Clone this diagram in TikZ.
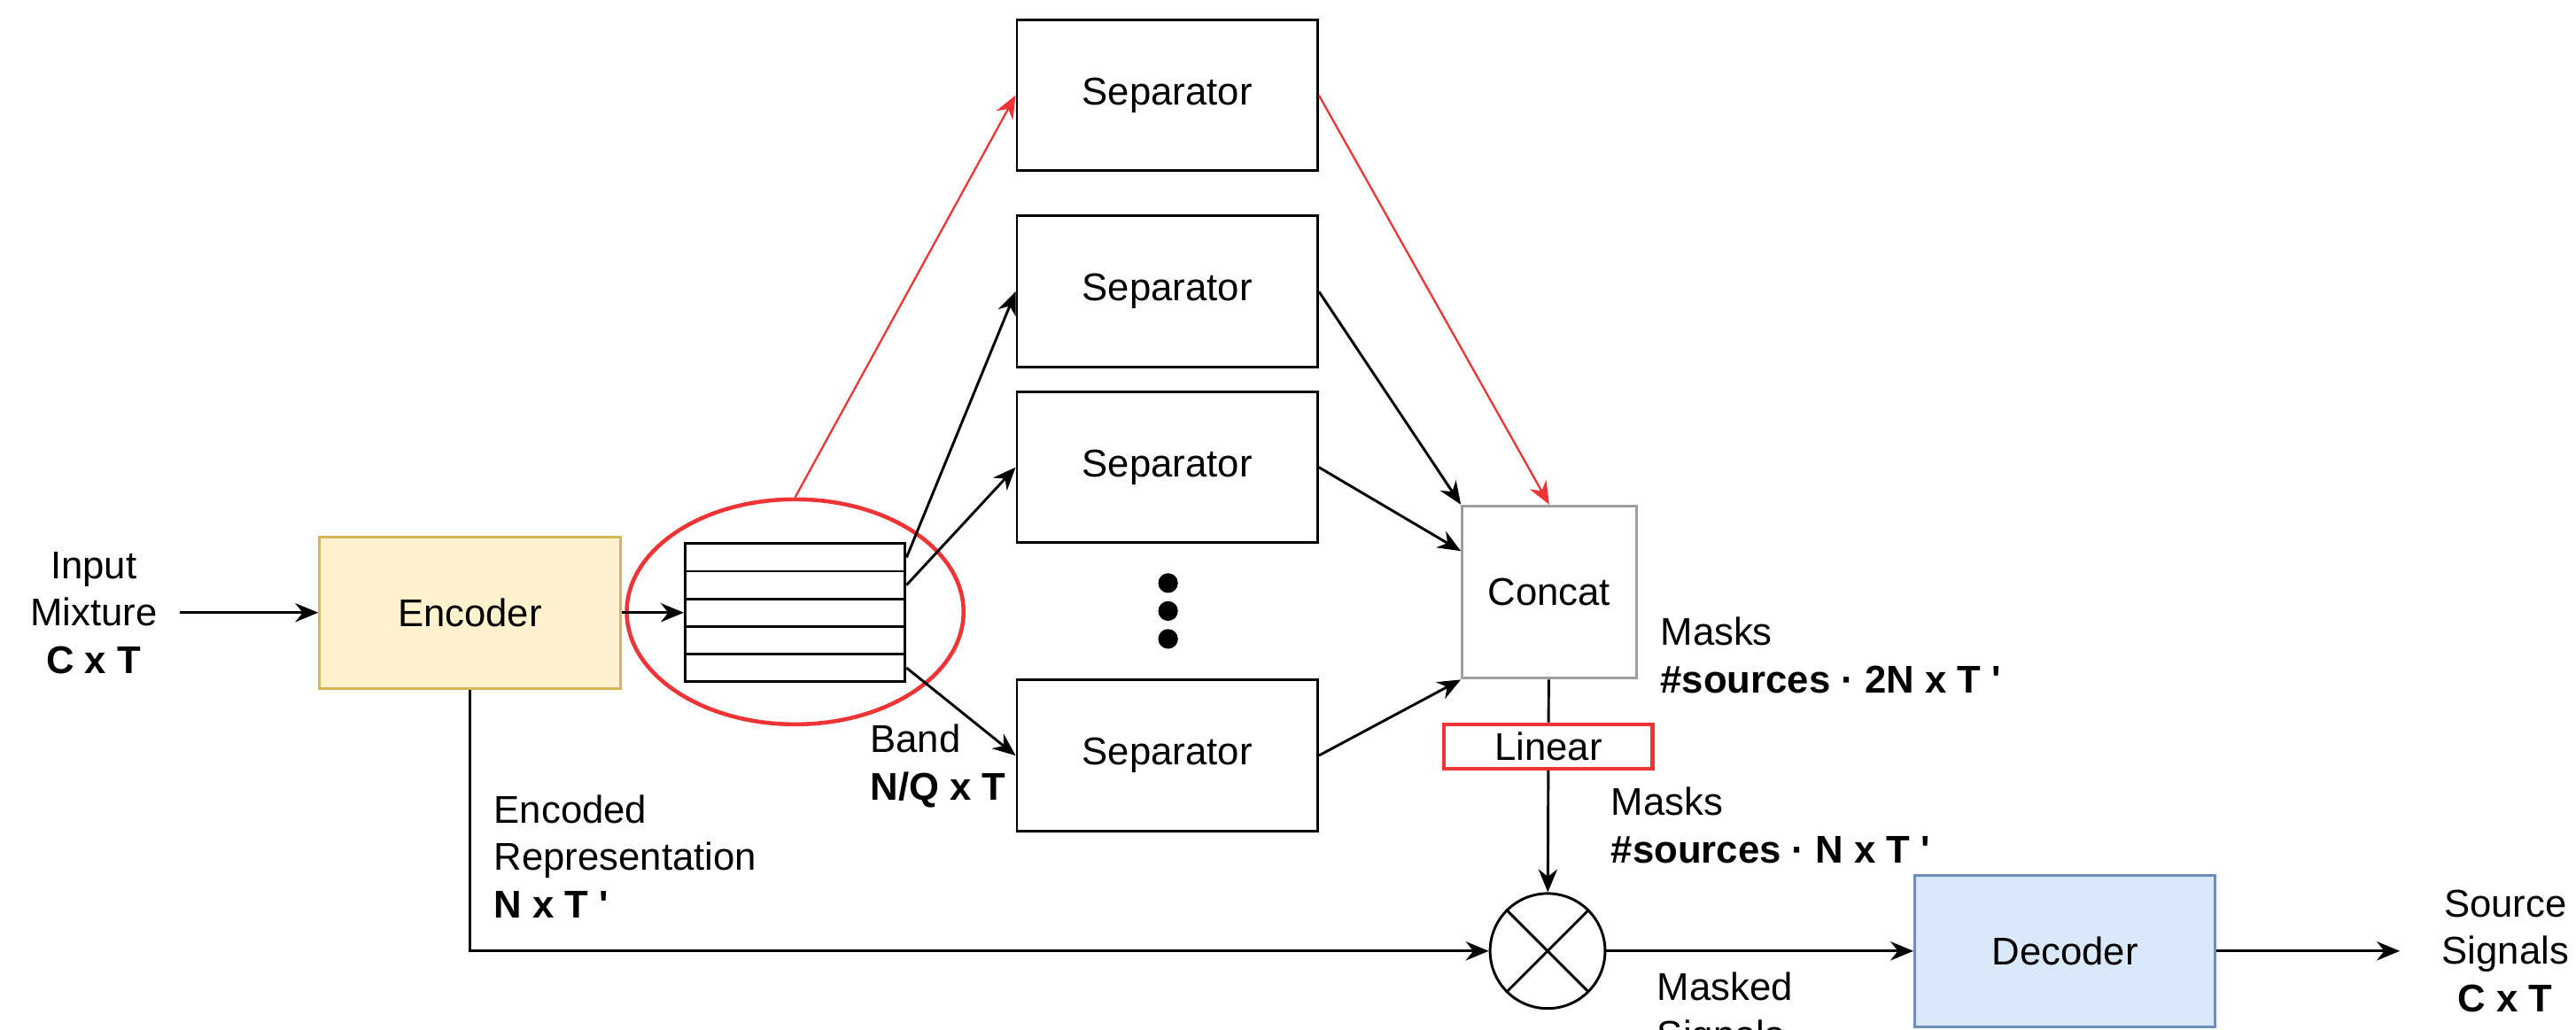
\documentclass[tikz,border=0pt]{standalone}
\usepackage{fontspec}
\setmainfont{Liberation Sans}
\usetikzlibrary{arrows.meta,shapes.geometric}
\definecolor{encfill}{HTML}{FFF2CC}
\definecolor{encline}{HTML}{D6B656}
\definecolor{decfill}{HTML}{DAE8FC}
\definecolor{decline}{HTML}{6C8EBF}
\definecolor{hired}{HTML}{EE3434}
\newcommand{\qt}{\textquotesingle}

\begin{document}
\begin{tikzpicture}[>={Stealth[length=2.8mm,width=2.3mm]}, line width=0.9pt, font=\fontsize{13.4}{16.4}\selectfont,
  bnode/.style={draw,minimum width=3.66cm,minimum height=1.84cm,inner sep=0pt},
  rnode/.style={draw,fill=white,minimum width=2.68cm,minimum height=0.336cm,inner sep=0pt},
  tnode/.style={align=left,anchor=west,inner sep=0pt},
  dnode/.style={fill=black,circle,minimum size=0.24cm,inner sep=0pt}]
    \useasboundingbox (0,0) rectangle (31.36,12.54);

    \node[align=center] (in) at (1.14,5.08) {Input\\Mixture\\\textbf{C x T}};
    \node[bnode,fill=encfill,draw=encline] (enc) at (5.72,5.08) {Encoder};
    \node[rnode] (b1) at (9.68,5.752) {};
    \node[rnode] (b2) at (9.68,5.416) {};
    \node[rnode] (b3) at (9.68,5.08) {};
    \node[rnode] (b4) at (9.68,4.744) {};
    \node[rnode] (b5) at (9.68,4.408) {};
    \node[ellipse,draw=hired,line width=1.4pt,minimum width=4.1cm,minimum height=2.74cm,inner sep=0pt] (ell) at (9.68,5.09) {};

    \node[bnode] (s1) at (14.21,11.38) {Separator};
    \node[bnode] (s2) at (14.21,8.99) {Separator};
    \node[bnode] (s3) at (14.21,6.85) {Separator};
    \node[dnode] (d1) at (14.22,5.44) {};
    \node[dnode] (d2) at (14.22,5.10) {};
    \node[dnode] (d3) at (14.22,4.76) {};
    \node[bnode] (s4) at (14.21,3.34) {Separator};

    \node[draw=black!38,minimum width=2.12cm,minimum height=2.1cm,inner sep=0pt] (cat) at (18.86,5.33) {Concat};
    \node[draw=hired,line width=1.4pt,minimum width=2.54cm,minimum height=0.54cm,inner sep=0pt] (lin) at (18.85,3.45) {Linear};
    \node[circle,draw,minimum size=1.4cm,inner sep=0pt] (mul) at (18.84,0.96) {};
    \node[bnode,fill=decfill,draw=decline] (dec) at (25.14,0.96) {Decoder};
    \node[align=center] (src) at (30.5,0.96) {Source\\Signals\\\textbf{C x T}};

    \node[tnode] (band) at (10.58,3.21) {Band\\\textbf{N/Q x T}};
    \node[tnode] (encl) at (6.0,2.11) {Encoded\\Representation\\\textbf{N x T \qt}};
    \node[tnode] (mk1) at (20.2,4.56) {Masks\\\textbf{\#sources · 2N x T \qt}};
    \node[tnode] (mk2) at (19.6,2.49) {Masks\\\textbf{\#sources · N x T \qt}};
    \node[tnode] (msk) at (20.16,0.19) {Masked\\Signals};

    \draw[->,shorten <=0.14cm] (in) -- (enc);
    \draw[->] (enc) -- (b3);
    \draw[->] (b1.east) -- (s2.west);
    \draw[->] (b2.east) -- (s3.west);
    \draw[->] (b5.east) -- (s4.west);
    \draw[->] (s2.east) -- (cat.north west);
    \draw[->] (s3.east) -- ([yshift=0.5cm]cat.west);
    \draw[->] (s4.east) -- (cat.south west);
    \draw (cat) -- (lin);
    \draw[->] (lin) -- (mul);
    \draw[->] (enc) |- (mul);
    \draw (mul.north east) -- (mul.south west);
    \draw (mul.north west) -- (mul.south east);
    \draw[->] (mul) -- (dec);
    \draw[->,shorten >=0.38cm] (dec) -- (src);

   \begin{scope}[hired,line width=0.7pt]
    \draw[->] (ell.north) -- (s1.west);
    \draw[->] (s1.east) -- (cat.north);
   \end{scope}
\end{tikzpicture}
\end{document}
